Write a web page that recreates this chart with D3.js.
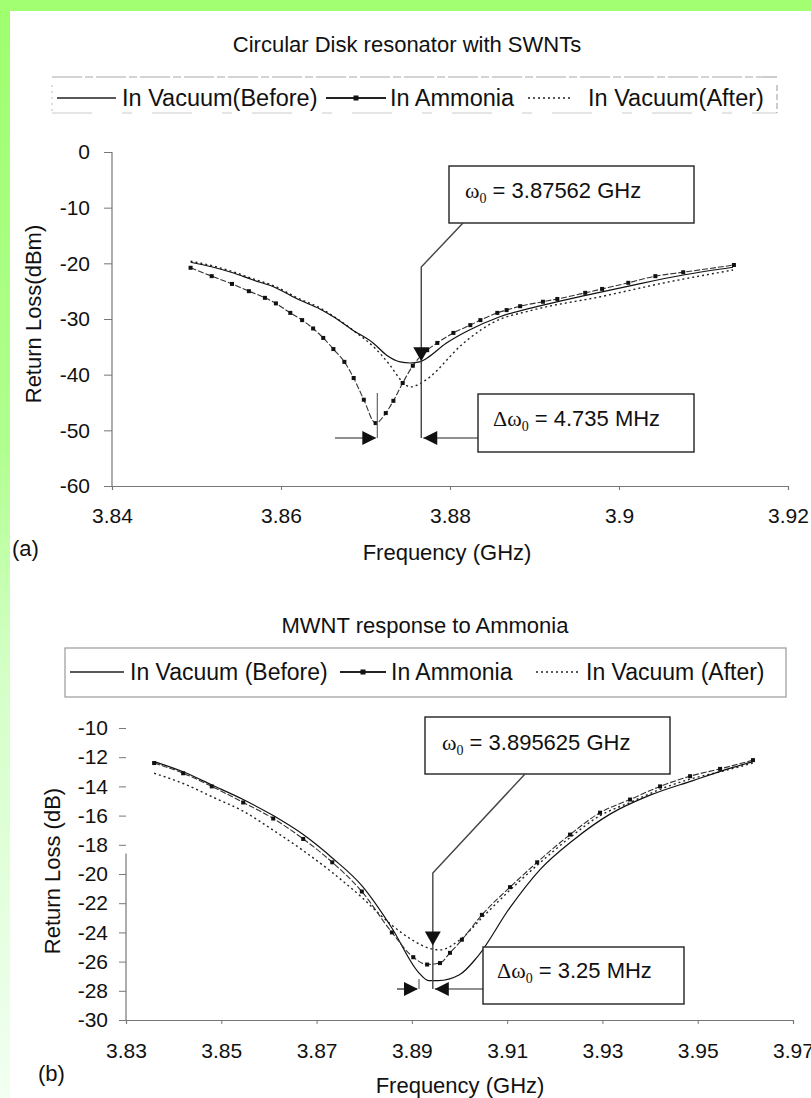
<!DOCTYPE html>
<html><head><meta charset="utf-8">
<script src="https://cdn.jsdelivr.net/npm/d3@7"></script>
<style>
body{margin:0;background:#fff}
svg{display:block}
text{font-family:"Liberation Sans",Arial,sans-serif;fill:#111}
</style>
</head><body>
<svg id="c" width="811" height="1098"></svg>
<script>
// ---------- Data ----------
const titleA = "Circular Disk resonator with SWNTs";
const titleB = "MWNT response to Ammonia";
const namesA = ["In Vacuum(Before)", "In Ammonia", "In Vacuum(After)"];
const namesB = ["In Vacuum (Before)", "In Ammonia", "In Vacuum (After)"];
const xTicksA = [3.84, 3.86, 3.88, 3.9, 3.92];
const yTicksA = [0, -10, -20, -30, -40, -50, -60];
const xTicksB = [3.83, 3.85, 3.87, 3.89, 3.91, 3.93, 3.95, 3.97];
const yTicksB = [-10, -12, -14, -16, -18, -20, -22, -24, -26, -28, -30];

// (a) SWNT
const aBeforeF = [3.8493, 3.8520, 3.8543, 3.8567, 3.8591, 3.8622, 3.8646, 3.8662, 3.8685, 3.8709, 3.8725, 3.8741, 3.8753, 3.8764, 3.8773, 3.8795, 3.8820, 3.8859, 3.8910, 3.8962, 3.9017, 3.9076, 3.9135];
const aBeforeV = [-19.8, -20.7, -21.7, -23.0, -24.2, -26.6, -28.2, -29.6, -32.0, -34.3, -36.5, -37.7, -37.9, -37.7, -37.0, -34.4, -32.2, -29.6, -27.5, -25.7, -23.9, -22.1, -20.7];
const aAmmF = [3.8493, 3.8518, 3.8542, 3.8562, 3.8581, 3.8594, 3.8611, 3.8625, 3.8638, 3.8650, 3.8662, 3.8675, 3.8686, 3.8698, 3.8712, 3.8724, 3.8733, 3.8744, 3.8756, 3.8773, 3.8785, 3.8804, 3.8824, 3.8836, 3.8856, 3.8867, 3.8883, 3.8910, 3.8927, 3.8960, 3.8980, 3.9011, 3.9043, 3.9076, 3.9136];
const aAmmV = [-20.8, -22.3, -23.7, -25.0, -26.2, -27.2, -28.9, -30.2, -31.7, -33.4, -35.4, -37.7, -40.6, -44.5, -48.7, -46.9, -44.7, -41.5, -38.4, -35.6, -34.3, -32.5, -31.1, -30.2, -28.9, -28.4, -27.7, -26.9, -26.4, -25.3, -24.6, -23.5, -22.3, -21.6, -20.3];
const aAfterF = [3.8493, 3.8520, 3.8543, 3.8567, 3.8591, 3.8622, 3.8646, 3.8662, 3.8685, 3.8711, 3.8729, 3.8742, 3.8753, 3.8768, 3.8785, 3.8796, 3.8814, 3.8822, 3.8850, 3.8898, 3.8978, 3.9057, 3.9135];
const aAfterV = [-19.6, -20.5, -21.5, -22.8, -24.0, -26.4, -28.0, -29.5, -32.0, -35.2, -38.3, -41.0, -42.2, -41.3, -39.2, -37.4, -34.6, -33.6, -30.7, -28.4, -26.0, -23.4, -21.2];

// (b) MWNT
const bBeforeF = [3.8359, 3.8420, 3.8480, 3.8546, 3.8609, 3.8672, 3.8733, 3.8795, 3.8858, 3.8913, 3.8935, 3.8955, 3.9000, 3.9037, 3.9106, 3.9169, 3.9238, 3.9316, 3.9400, 3.9490, 3.9574, 3.9616];
const bBeforeV = [-12.3, -13.0, -13.9, -14.9, -16.0, -17.3, -18.9, -20.8, -23.7, -26.7, -27.3, -27.3, -26.9, -25.7, -22.3, -19.7, -17.7, -15.9, -14.6, -13.6, -12.7, -12.3];
const bAmmF = [3.8359, 3.8420, 3.8480, 3.8546, 3.8609, 3.8672, 3.8733, 3.8795, 3.8858, 3.8903, 3.8932, 3.8959, 3.8980, 3.9005, 3.9047, 3.9106, 3.9163, 3.9232, 3.9295, 3.9358, 3.9421, 3.9484, 3.9547, 3.9616];
const bAmmV = [-12.4, -13.1, -14.0, -15.1, -16.2, -17.6, -19.2, -21.2, -24.0, -25.7, -26.2, -26.1, -25.4, -24.5, -22.8, -20.9, -19.2, -17.3, -15.8, -14.9, -14.0, -13.3, -12.8, -12.2];
const bAfterF = [3.8359, 3.8420, 3.8480, 3.8546, 3.8609, 3.8672, 3.8733, 3.8795, 3.8854, 3.8900, 3.8938, 3.8959, 3.9001, 3.9050, 3.9106, 3.9163, 3.9232, 3.9295, 3.9358, 3.9421, 3.9484, 3.9547, 3.9616];
const bAfterV = [-13.1, -13.8, -14.7, -15.7, -17.0, -18.4, -19.9, -21.6, -23.4, -24.5, -25.1, -25.2, -24.5, -22.9, -21.1, -19.4, -17.5, -16.0, -15.1, -14.2, -13.5, -13.0, -12.4];

// annotations (data units)
const annA = {w0Label: "= 3.87562 GHz", dLabel: "= 4.735 MHz", fRight: 3.8766, fLeft: 3.8714};
const annB = {w0Label: "= 3.895625 GHz", dLabel: "= 3.25 MHz", fRight: 3.8944, fLeft: 3.8915};

// ---------- Drawing ----------
const svg = d3.select("#c");
const defs = svg.append("defs");
const grad = defs.append("linearGradient").attr("id","lg").attr("x1",0).attr("y1",0).attr("x2",0).attr("y2",1);
[[0,"#9eff6e"],[0.4,"#b0ff8e"],[0.6,"#d2ffc4"],[1,"#f2fff2"]].forEach(s=>grad.append("stop").attr("offset",s[0]).attr("stop-color",s[1]));
svg.append("rect").attr("x",0).attr("y",0).attr("width",811).attr("height",1098).attr("fill","#fff");
svg.append("rect").attr("x",0).attr("y",0).attr("width",10).attr("height",1098).attr("fill","url(#lg)");
svg.append("rect").attr("x",0).attr("y",0).attr("width",811).attr("height",11).attr("fill","#a2ff72");

const FS = 21;
const zip = (f,v)=>f.map((d,i)=>({f:d,v:v[i]}));

function tri(g, tipX, tipY, dir, len, half){
  let p;
  if(dir==="down") p=[[tipX,tipY],[tipX-half,tipY-len],[tipX+half,tipY-len]];
  if(dir==="right") p=[[tipX,tipY],[tipX-len,tipY-half],[tipX-len,tipY+half]];
  if(dir==="left") p=[[tipX,tipY],[tipX+len,tipY-half],[tipX+len,tipY+half]];
  g.append("path").attr("d","M"+p.map(q=>q.join(",")).join("L")+"Z").attr("fill","#111");
}

function omegaText(g, x, y, delta, rest){
  const t = g.append("text").attr("x",x).attr("y",y).attr("font-size",22);
  if(delta) t.append("tspan").attr("font-family","Liberation Serif, serif").text("\u0394");
  t.append("tspan").attr("font-family","Liberation Serif, serif").text("\u03c9");
  t.append("tspan").attr("font-family","Liberation Serif, serif").attr("font-size",14).attr("dy",5).text("0");
  t.append("tspan").attr("dy",-5).text(" " + rest);
}

function drawChart(cfg){
  const g = svg.append("g");
  const x = d3.scaleLinear().domain(cfg.xDom).range(cfg.xRange);
  const y = d3.scaleLinear().domain(cfg.yDom).range(cfg.yRange);
  // title
  g.append("text").attr("x",cfg.titleX).attr("y",cfg.titleY).attr("text-anchor","middle").attr("font-size",22).text(cfg.title);
  // legend
  const L = cfg.legend;
  if(L.box){
    g.append("rect").attr("x",L.x0).attr("y",L.y0).attr("width",L.x1-L.x0).attr("height",L.y1-L.y0)
      .attr("fill","none").attr("stroke","#999").attr("stroke-width",1.2);
  } else {
    g.append("path").attr("d",`M${L.x0},${L.y0}H${L.x1}`).attr("stroke","#aaa").attr("stroke-width",1.2).attr("stroke-dasharray","30,3,8,3");
    g.append("path").attr("d",`M${L.x0},${L.y1}H${L.x1}`).attr("stroke","#ccc").attr("stroke-width",1).attr("stroke-dasharray","40,30,10,20");
    g.append("path").attr("d",`M${L.x0},${L.y0+8}V${L.y1}`).attr("stroke","#bbb").attr("stroke-dasharray","2,4");
    g.append("path").attr("d",`M${L.x1},${L.y0+8}V${L.y1}`).attr("stroke","#999").attr("stroke-dasharray","6,3");
  }
  L.items.forEach((it,i)=>{
    const ly = L.ty;
    const ln = g.append("path").attr("d",`M${it.l0},${ly}H${it.l1}`).attr("stroke","#222").attr("stroke-width",i===1?2:1.5);
    if(i===2) ln.attr("stroke-dasharray","2,3").attr("stroke-width",1.5);
    if(i===1) g.append("rect").attr("x",(it.l0+it.l1)/2-2.5).attr("y",ly-2.5).attr("width",5).attr("height",5).attr("fill","#111");
    g.append("text").attr("x",it.tx).attr("y",ly+8).attr("font-size",L.fs).text(cfg.names[i]);
  });
  // axes
  const xa = d3.axisBottom(x).tickValues(cfg.xTicks).tickSize(4).tickPadding(cfg.xPad).tickFormat(d=>String(+d.toFixed(2)));
  const gx = g.append("g").attr("transform",`translate(0,${cfg.yRange[1]})`).call(xa);
  gx.select(".domain").attr("stroke","#777").attr("stroke-width",1.2);
  gx.selectAll(".tick line").attr("stroke","#777");
  gx.selectAll(".tick text").attr("font-size",FS).attr("font-family","Liberation Sans, Arial, sans-serif").attr("fill","#222");
  const ya = d3.axisLeft(y).tickValues(cfg.yTicks).tickSize(cfg.yTickSize).tickPadding(cfg.yPad).tickFormat(d=>String(d));
  const gy = g.append("g").attr("transform",`translate(${cfg.xRange[0]},0)`).call(ya);
  gy.select(".domain").remove();
  gy.selectAll(".tick line").attr("stroke","#777");
  gy.selectAll(".tick text").attr("font-size",FS).attr("font-family","Liberation Sans, Arial, sans-serif").attr("fill","#222");
  g.append("path").attr("d",`M${cfg.xRange[0]},${y(cfg.yAxisFrom)}V${cfg.yRange[1]}`).attr("stroke","#777").attr("stroke-width",1.2);
  // axis labels
  g.append("text").attr("transform",`translate(${cfg.ylabX},${cfg.ylabY}) rotate(-90)`).attr("text-anchor","middle").attr("font-size",22).text(cfg.ylab);
  g.append("text").attr("x",cfg.xlabX).attr("y",cfg.xlabY).attr("text-anchor","middle").attr("font-size",22).text("Frequency (GHz)");
  g.append("text").attr("x",cfg.tagX).attr("y",cfg.tagY).attr("font-size",22).text(cfg.tag);
  // series
  const line = d3.line().x(d=>x(d.f)).y(d=>y(d.v)).curve(d3.curveMonotoneX);
  const before = zip(cfg.before[0],cfg.before[1]);
  const amm = zip(cfg.amm[0],cfg.amm[1]);
  const after = zip(cfg.after[0],cfg.after[1]);
  g.append("path").datum(after).attr("d",line).attr("fill","none").attr("stroke","#222").attr("stroke-width",1.4).attr("stroke-dasharray","2,3");
  g.append("path").datum(before).attr("d",line).attr("fill","none").attr("stroke","#111").attr("stroke-width",1.2);
  g.append("path").datum(amm).attr("d",line).attr("fill","none").attr("stroke","#333").attr("stroke-width",1.1).attr("stroke-dasharray","6,2");
  g.selectAll(null).data(amm).join("rect").attr("x",d=>x(d.f)-2).attr("y",d=>y(d.v)-2).attr("width",4).attr("height",4).attr("fill","#111");
  // annotations
  const A = cfg.ann, P = cfg.annPx;
  const xr = x(A.fRight), xl = x(A.fLeft);
  g.append("rect").attr("x",P.b1[0]).attr("y",P.b1[1]).attr("width",P.b1[2]-P.b1[0]).attr("height",P.b1[3]-P.b1[1]).attr("fill","#fff").attr("stroke","#222").attr("stroke-width",1.4);
  omegaText(g, P.t1[0], P.t1[1], false, A.w0Label);
  g.append("path").attr("d",`M${P.lead[0]},${P.b1[3]}L${xr},${P.lead[1]}V${P.arrY}`).attr("fill","none").attr("stroke","#444").attr("stroke-width",1.4);
  tri(g, xr, y(P.downTipV), "down", 14, 8);
  g.append("path").attr("d",`M${xl},${y(P.tickTopV)}V${P.arrY}`).attr("stroke","#666").attr("stroke-width",1.2);
  g.append("path").attr("d",`M${P.leftStart},${P.arrY}H${xl-2}`).attr("stroke","#222").attr("stroke-width",1.2);
  tri(g, xl-1, P.arrY, "right", 14, 7);
  g.append("path").attr("d",`M${P.b2[0]},${P.arrY}H${xr+2}`).attr("stroke","#222").attr("stroke-width",1.2);
  tri(g, xr+2, P.arrY, "left", 14, 7);
  g.append("rect").attr("x",P.b2[0]).attr("y",P.b2[1]).attr("width",P.b2[2]-P.b2[0]).attr("height",P.b2[3]-P.b2[1]).attr("fill","#fff").attr("stroke","#222").attr("stroke-width",1.4);
  omegaText(g, P.t2[0], P.t2[1], true, A.dLabel);
}

drawChart({
  xDom:[3.84,3.92], xRange:[112,788], yDom:[0,-60], yRange:[152,486],
  xTicks:xTicksA, yTicks:yTicksA, xPad:18, yPad:14, yTickSize:8, yAxisFrom:0,
  title:titleA, titleX:407, titleY:52,
  names:namesA,
  legend:{box:false, x0:52, x1:777, y0:77, y1:113, ty:98, fs:23.5,
    items:[{l0:57,l1:116,tx:122},{l0:326,l1:386,tx:390},{l0:528,l1:573,tx:588}]},
  ylab:"Return Loss(dBm)", ylabX:41, ylabY:314,
  xlabX:447, xlabY:560, tag:"(a)", tagX:12, tagY:556,
  before:[aBeforeF,aBeforeV], amm:[aAmmF,aAmmV], after:[aAfterF,aAfterV],
  ann:annA,
  annPx:{b1:[449,166,694,223], t1:[465,198], lead:[463,267], arrY:438, downTipV:-37.6, tickTopV:-43.3,
         leftStart:335, b2:[478,394,694,452], t2:[493,426]}
});

drawChart({
  xDom:[3.83,3.97], xRange:[126,793], yDom:[-10,-30], yRange:[728,1020],
  xTicks:xTicksB, yTicks:yTicksB, xPad:19, yPad:11, yTickSize:7, yAxisFrom:-18.6,
  title:titleB, titleX:425, titleY:633,
  names:namesB,
  legend:{box:true, x0:65, x1:786, y0:648, y1:697, ty:672, fs:23,
    items:[{l0:70,l1:124,tx:130},{l0:340,l1:386,tx:391},{l0:536,l1:580,tx:586}]},
  ylab:"Return Loss (dB)", ylabX:60, ylabY:871,
  xlabX:460, xlabY:1093, tag:"(b)", tagX:38, tagY:1081,
  before:[bBeforeF,bBeforeV], amm:[bAmmF,bAmmV], after:[bAfterF,bAfterV],
  ann:annB,
  annPx:{b1:[425,717,670,774], t1:[442,750], lead:[525,873], arrY:989, downTipV:-24.9, tickTopV:-27.2,
         leftStart:397, b2:[483,947,684,1004], t2:[497,978]}
});
</script>
</body></html>
